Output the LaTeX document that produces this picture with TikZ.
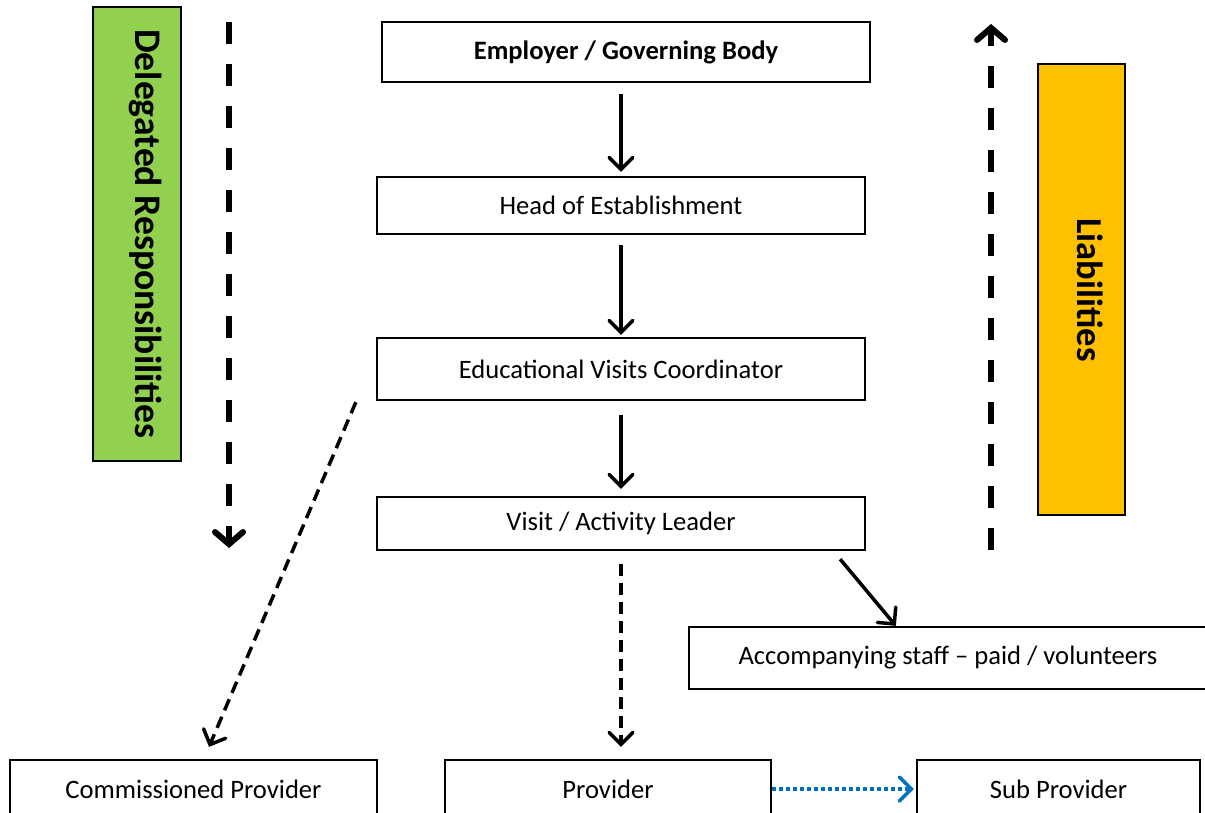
\documentclass[tikz,border=0pt]{standalone}
\usepackage{fontspec}
\setmainfont{Carlito}
\usetikzlibrary{arrows.meta}
\definecolor{dgreen}{HTML}{92D050}
\definecolor{dorange}{HTML}{FFC000}
\definecolor{dblue}{HTML}{0070C0}
\tikzset{
  box/.style={draw=black, line width=2.3pt, rectangle, inner sep=0pt, font=\fontsize{26.6}{31}\selectfont},
  bandbox/.style={draw=black, line width=2.3pt, rectangle, inner sep=0pt},
  bandlabel/.style={rotate=-90, font=\fontsize{37.6}{44}\selectfont\bfseries, inner sep=0pt},
  solidarrow/.style={line width=3.5pt, -{Straight Barb[length=12pt,width=24pt,line cap=round]}},
  dasharrow/.style={line width=3.5pt, dash pattern=on 12pt off 7pt, -{Straight Barb[length=12pt,width=24pt,line cap=round]}},
  thickdash/.style={line width=6pt, dash pattern=on 22pt off 20pt, -{Straight Barb[length=12pt,width=28pt,line cap=round]}},
  bluedot/.style={draw=dblue, line width=3.5pt, dash pattern=on 3.5pt off 3.5pt, -{Straight Barb[length=12pt,width=24pt,line cap=round]}}
}
\begin{document}
\begin{tikzpicture}[x=1pt,y=-1pt]
\useasboundingbox (0,0) rectangle (1205,812);
% side bands
\node[bandbox, fill=dgreen, minimum width=88pt, minimum height=454pt] (green) at (137,234) {};
\node[bandlabel] (glabel) at (146,234) {Delegated Responsibilities};
\node[bandbox, fill=dorange, minimum width=87pt, minimum height=451pt] (orange) at (1081.5,289.5) {};
\node[bandlabel, font=\fontsize{36.5}{44}\selectfont\bfseries] (olabel) at (1090,290) {Liabilities};
% main boxes
\node[box, minimum width=488pt, minimum height=60pt, font=\fontsize{26.6}{31}\selectfont\bfseries] (emp) at (626,52) {Employer / Governing Body};
\node[box, minimum width=488pt, minimum height=57pt] (head) at (621,205.5) {Head of Establishment};
\node[box, minimum width=488pt, minimum height=62pt] (evc) at (621,369) {Educational Visits Coordinator};
\node[box, minimum width=488pt, minimum height=53pt] (lead) at (621,523.5) {Visit / Activity Leader};
\node[box, minimum width=518pt, minimum height=62pt] (acc) at (948,658) {Accompanying staff -- paid / volunteers};
\node[box, minimum width=367pt, minimum height=58pt] (comm) at (193.5,789) {Commissioned Provider};
\node[box, minimum width=326pt, minimum height=58pt] (prov) at (608,789) {Provider};
\node[box, minimum width=283pt, minimum height=58pt] (sub) at (1058.5,789) {Sub Provider};
% free-end coordinates of the side arrows
\coordinate (dtop) at (229,22);
\coordinate (dbot) at (229,548);
\coordinate (ltop) at (991,24);
\coordinate (lbot) at (991,550);
% connectors
\draw[thickdash] (dtop) -- (dbot);
\draw[thickdash] (lbot) -- (ltop);
\draw[solidarrow, shorten <=11pt, shorten >=4pt] (emp.south -| head.north) -- (head.north);
\draw[solidarrow, shorten <=10pt, shorten >=2pt] (head.south) -- (evc.north);
\draw[solidarrow, shorten <=14pt, shorten >=7pt] (evc.south) -- (lead.north);
\draw[dasharrow, shorten <=13pt, shorten >=12pt] (lead.south) -- (lead.south |- prov.north);
\draw[dasharrow] ([xshift=-20pt,yshift=-1pt]evc.south west) -- ([xshift=15.5pt,yshift=12pt]comm.north);
\draw[solidarrow] ([xshift=-26pt,yshift=-8pt]lead.south east) -- ([xshift=208pt]acc.north west);
\draw[bluedot, shorten >=2pt] (prov.east) -- (sub.west);
\end{tikzpicture}
\end{document}
